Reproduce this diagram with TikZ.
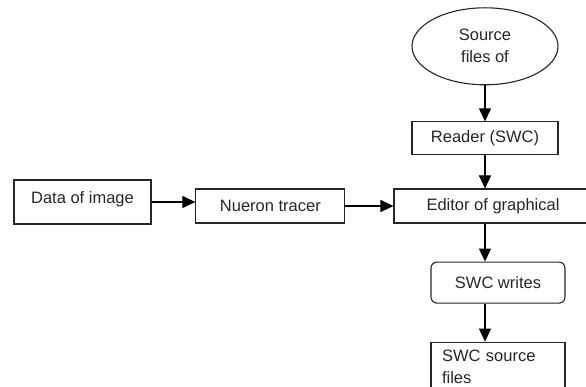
\documentclass[tikz,border=0pt]{standalone}
\usepackage{fontspec}
\setmainfont{Liberation Sans}
\usepackage{xcolor}
\usepackage{tikz}
\usetikzlibrary{positioning,arrows.meta,shapes.geometric}
\definecolor{inkgray}{HTML}{262626}
\tikzset{
  block/.style={draw=inkgray, line width=1.1pt, align=center, text=inkgray,
    font=\fontsize{16.5}{22}\selectfont, inner sep=4pt},
  proc/.style   ={block, minimum height=34pt},
  store/.style  ={block, ellipse, minimum width=146pt, minimum height=77pt,
    inner sep=1pt},
  soft/.style   ={block, rounded corners=6pt, minimum width=134pt,
    minimum height=41pt},
  outbox/.style ={block, align=left, text width=112pt, inner xsep=11pt,
    inner ysep=8pt},
  arr/.style    ={-{Triangle[length=13pt,width=12pt]}, line width=1.1pt,
    draw=black}
}
\begin{document}
\begin{tikzpicture}[x=1pt, y=-1pt]
    \useasboundingbox (0,0) rectangle (586,387);

    % ---------- main row ----------
    \node[proc, minimum width=198pt] (editor) at (493,206)
      {Editor of graphical};
    \node[proc, minimum width=149pt, left=48pt of editor] (tracer)
      {Nueron tracer};
    \node[block, minimum width=137pt, minimum height=44pt, text depth=9pt]
      (data) at (82.5,202) {Data of image};

    % ---------- input column ----------
    \node[proc, minimum width=146pt, minimum height=33pt,
      above=33pt of editor, xshift=-8pt] (reader) {Reader (SWC)};
    \node[store, above=36pt of reader] (srcfiles) {Source\\files of};

    % ---------- output column ----------
    \node[soft, below=38pt of editor, xshift=5pt] (writes) {SWC writes};
    \node[outbox, below=38pt of writes, anchor=north] (swcout)
      {SWC source\\files};

    \draw[arr] (data.east) -- (data.east -| tracer.west);
    \draw[arr] (tracer) -- (editor);
    \draw[arr] (srcfiles) -- (reader);
    \draw[arr] (reader.south) -- (reader.south |- editor.north);
    \draw[arr] (editor.south -| reader) -- (writes.north -| reader);
    \draw[arr] (writes.south -| reader) -- (swcout.north -| reader);

  \end{tikzpicture}
\end{document}
